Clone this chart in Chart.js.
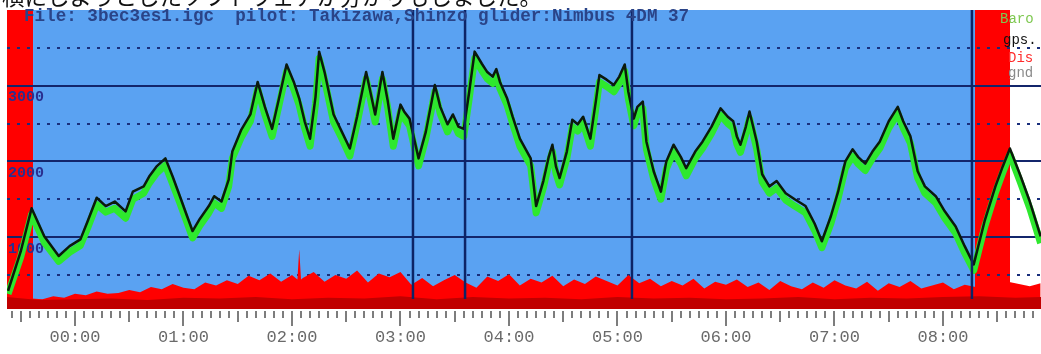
<!DOCTYPE html>
<html>
<head>
<meta charset="utf-8">
<script src="https://cdn.jsdelivr.net/npm/chart.js@4.4.1/dist/chart.umd.min.js"></script>
<style>
  html, body { margin: 0; padding: 0; background: #fff; overflow: hidden; }
  #wrap { position: relative; width: 1041px; height: 354px; }
  #note { position: absolute; left: 0; top: 0; width: 1041px; height: 8px; overflow: hidden; }
  #note span { position: absolute; left: 2px; top: -18px; font-family: "Noto Sans CJK JP"; font-size: 22.5px; line-height: 26px; white-space: nowrap; color: #111; }
  .txt { position: absolute; font-family: "Liberation Mono", monospace; white-space: pre; line-height: 1; }
</style>
</head>
<body>
<div id="wrap">
  <canvas id="chart" width="1041" height="354"></canvas>
  <div id="note"><span>横にしようとしたソフトウェアが分かりもしました。</span></div>
  <div class="txt" style="left:24px;top:8px;font-size:17.6px;font-weight:bold;color:#2a4488">File: 3bec3es1.igc  pilot: Takizawa,Shinzo glider:Nimbus 4DM 37</div>
  <div class="txt" style="left:1000px;top:12px;font-size:14px;color:#7ec850">Baro</div>
  <div class="txt" style="left:1003px;top:33px;font-size:14px;color:#111">gps.</div>
  <div class="txt" style="left:1008px;top:51px;font-size:14px;color:#ff2a2a">Dis</div>
  <div class="txt" style="left:1008px;top:66px;font-size:14px;color:#8a8a8a">gnd</div>
</div>
<script>
// time in minutes after 00:00, altitude in metres
const gpsTimes = [-37,-30,-24,-17,-9,-3,3,7,12,17,22,28,32,38,41,45,50,54,58,62,65,69,74,77,81,85,87,92,97,101,105,109,113,117,121,124,127,130,133,135,138,143,147,152,156,161,166,170,173,176,180,182,185,190,194,199,202,206,209,212,215,218,221,225,228,231,233,235,239,242,246,252,255,259,262,264,266,268,272,275,278,281,285,288,290,294,298,301,304,306,309,311,314,316,320,324,327,331,335,338,343,347,352,357,361,364,366,368,371,373,377,380,384,388,393,398,404,409,413,418,422,426,430,433,437,441,445,450,455,458,462,466,470,476,481,487,492,497,503,509,513,517,523,528,534];
const gpsAlt = [290,810,1380,1010,750,880,970,1210,1520,1410,1470,1340,1600,1670,1800,1930,2040,1800,1540,1275,1080,1240,1410,1540,1470,1760,2130,2420,2620,3050,2720,2430,2850,3280,3050,2830,2530,2300,2850,3450,3180,2620,2420,2170,2590,3180,2620,3180,2790,2300,2750,2660,2565,2040,2390,3010,2720,2490,2620,2460,2430,2920,3450,3290,3180,3120,3220,3050,2830,2590,2300,2040,1410,1740,2060,2220,1930,1780,2130,2550,2490,2590,2300,2790,3140,3080,3010,3120,3280,2920,2565,2720,2790,2260,1870,1600,2000,2220,2060,1910,2130,2260,2460,2700,2590,2530,2330,2220,2460,2660,2260,1830,1670,1740,1580,1500,1410,1180,945,1275,1600,2000,2160,2060,1970,2130,2260,2530,2720,2530,2330,1870,1670,1540,1340,1140,880,640,1210,1670,1930,2170,1800,1470,1010];
const baroAlt = [250,740,1300,930,680,800,890,1120,1430,1330,1380,1250,1500,1580,1710,1840,1950,1700,1450,1190,990,1150,1320,1450,1380,1670,2040,2320,2530,2960,2620,2330,2760,3190,2950,2740,2440,2200,2760,3360,3080,2520,2330,2070,2500,3090,2520,3090,2700,2200,2660,2570,2470,1940,2300,2920,2630,2390,2530,2370,2330,2830,3360,3200,3090,3030,3130,2960,2740,2500,2200,1940,1320,1650,1970,2130,1840,1690,2040,2460,2400,2500,2200,2700,3050,2990,2920,3030,3190,2830,2470,2630,2700,2160,1770,1500,1900,2130,1970,1810,2040,2170,2370,2610,2500,2440,2230,2120,2370,2570,2160,1730,1580,1650,1490,1410,1320,1090,860,1180,1510,1910,2070,1970,1880,2040,2170,2440,2630,2440,2240,1780,1580,1450,1250,1050,790,560,1130,1590,1850,2090,1710,1380,920];

const disTimes = [-24,-18,-12,-6,0,6,12,18,24,30,36,42,48,54,60,66,72,78,84,90,96,102,108,114,120,123,124,125,126,132,138,144,150,156,162,168,174,180,186,192,198,204,210,216,222,228,234,240,246,252,258,264,270,276,282,288,294,300,306,312,318,324,330,336,342,348,354,360,366,372,378,384,390,396,402,408,414,420,426,432,438,444,450,456,462,468,474,480,486,492,498,504,510,516,522,528,534];
const disValues = [190,180,220,200,250,230,280,250,260,300,270,340,310,380,330,310,400,360,430,380,490,430,520,410,500,440,840,440,460,540,410,500,450,560,400,520,470,540,370,460,350,430,500,400,330,480,420,510,360,450,400,490,350,440,380,480,420,360,500,390,450,350,420,360,450,320,410,370,440,340,400,300,420,350,310,400,330,430,360,320,410,290,390,340,420,320,360,400,310,370,340,390,360,410,380,350,390];

const gndTimes = [-38,-20,0,20,40,60,80,100,120,140,160,180,200,220,240,260,280,300,320,340,360,380,400,420,440,460,480,500,520,535];
const gndValues = [210,170,180,190,170,200,190,210,180,200,190,220,180,210,190,200,180,210,190,200,180,190,210,180,200,190,210,220,200,210];

const hourTicks = [0,60,120,180,240,300,360,420,480];
const hourLabels = ['00:00','01:00','02:00','03:00','04:00','05:00','06:00','07:00','08:00'];
const altGrid = [500,1000,1500,2000,2500,3000,3500];
const altLabels = ['','1000','','2000','','3000',''];

// logger gaps (red), flight (blue), no data (white)
const bandStarts = [-37.6, -23.2, 497.7, 517.1];
const bandEnds = [-23.2, 497.7, 517.1, 540];
const bandColors = ['#ff0000', '#5aa2f2', '#ff0000', '#ffffff'];
// turnpoint markers
const markerTimes = [186.9, 215.7, 308.0, 496.0];

const pts = (ts, vs) => ts.map((t, i) => ({x: t, y: vs[i]}));

const bands = {
  id: 'bands',
  beforeDraw(chart) {
    const {ctx, chartArea: a, scales: {x}} = chart;
    ctx.save();
    for (let i = 0; i < bandStarts.length; i++) {
      const x0 = x.getPixelForValue(bandStarts[i]);
      const x1 = Math.min(x.getPixelForValue(bandEnds[i]), a.right);
      ctx.fillStyle = bandColors[i];
      ctx.fillRect(x0, a.top, x1 - x0, a.bottom - a.top);
    }
    ctx.restore();
  }
};

const markers = {
  id: 'markers',
  afterDatasetsDraw(chart) {
    const {ctx, chartArea: a, scales: {x}} = chart;
    ctx.save();
    ctx.strokeStyle = '#0d2466';
    ctx.lineWidth = 2.5;
    markerTimes.forEach(t => {
      const px = x.getPixelForValue(t);
      ctx.beginPath();
      ctx.moveTo(px, a.top);
      ctx.lineTo(px, a.bottom - 10);
      ctx.stroke();
    });
    ctx.restore();
  }
};

const tickMarks = {
  id: 'tickMarks',
  afterDraw(chart) {
    const {ctx, chartArea: a, scales: {x}} = chart;
    ctx.save();
    ctx.strokeStyle = '#7d7d7d';
    ctx.lineWidth = 2;
    for (let m = Math.ceil(x.min / 5) * 5; m <= x.max; m += 5) {
      const px = Math.round(x.getPixelForValue(m));
      const len = m % 60 === 0 ? 17 : (m % 30 === 0 ? 13 : 9);
      ctx.beginPath();
      ctx.moveTo(px, a.bottom + 2);
      ctx.lineTo(px, a.bottom + len);
      ctx.stroke();
    }
    ctx.restore();
  }
};

new Chart(document.getElementById('chart'), {
  type: 'line',
  data: {
    datasets: [
      {label: 'gps.', data: pts(gpsTimes, gpsAlt), borderColor: '#0b1a0b', borderWidth: 2.5, pointRadius: 0, fill: false, borderJoinStyle: 'round', order: 0},
      {label: 'Baro', data: pts(gpsTimes, baroAlt), borderColor: '#2ee82e', borderWidth: 7, pointRadius: 0, fill: false, borderJoinStyle: 'round', order: 1},
      {label: 'gnd', data: pts(gndTimes, gndValues), borderWidth: 0, backgroundColor: '#c00000', pointRadius: 0, fill: 'start', order: 2},
      {label: 'Dis', data: pts(disTimes, disValues), borderWidth: 0, backgroundColor: '#ff0000', pointRadius: 0, fill: 'start', order: 3}
    ]
  },
  options: {
    responsive: false,
    animation: false,
    layout: {padding: {left: 7, top: 8, right: 0, bottom: 0}},
    plugins: {legend: {display: false}, tooltip: {enabled: false}},
    scales: {
      x: {
        type: 'linear',
        min: -37.6,
        max: 534.2,
        grid: {display: false},
        border: {display: false},
        afterBuildTicks: s => { s.ticks = hourTicks.map(v => ({value: v})); },
        afterFit: s => { s.height = 45; },
        ticks: {
          autoSkip: false,
          maxRotation: 0,
          padding: 10,
          color: '#6a6a6a',
          font: {family: 'Liberation Mono', size: 17},
          callback: v => hourLabels[hourTicks.indexOf(v)] || ''
        }
      },
      y: {
        type: 'linear',
        min: 50,
        max: 4000,
        afterBuildTicks: s => { s.ticks = altGrid.map(v => ({value: v})); },
        afterFit: s => { s.width = 0; },
        grid: {
          drawTicks: false,
          lineWidth: 2,
          color: c => c.tick && c.tick.value % 1000 === 0 ? '#13256b' : '#1a2f7c'
        },
        border: {
          display: false,
          dash: c => c.tick && c.tick.value % 1000 === 0 ? [] : [3, 7]
        },
        ticks: {
          mirror: true,
          padding: 1,
          labelOffset: 12,
          color: '#2a2f8f',
          font: {family: 'Liberation Mono', size: 15, weight: 'bold'},
          callback: (v, i) => altLabels[i]
        }
      }
    }
  },
  plugins: [bands, markers, tickMarks]
});
</script>
</body>
</html>
